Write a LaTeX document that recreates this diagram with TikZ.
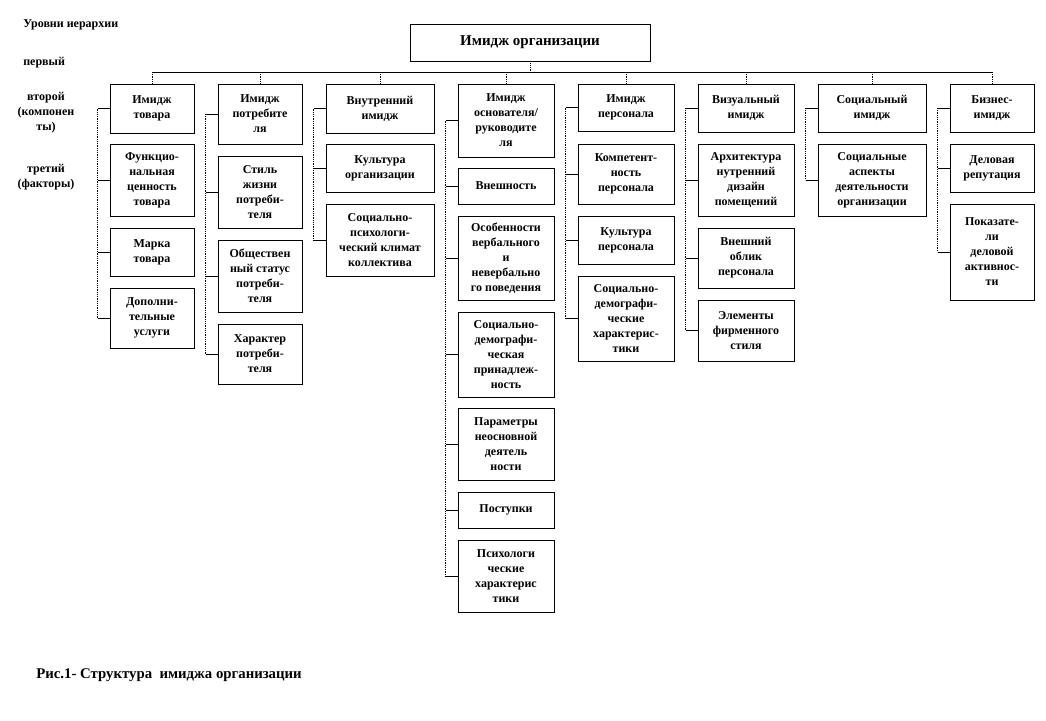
\documentclass[tikz,border=0pt]{standalone}
\usepackage{fontspec}
\setmainfont{Liberation Serif}
\tikzset{
  box/.style 2 args={draw, line width=0.6pt, align=center, inner sep=1pt,
    minimum width=#1pt, minimum height=#2pt, font=\fontsize{12}{15}\selectfont\bfseries},
  lev/.style={align=center, inner sep=0pt, font=\fontsize{12}{15}\selectfont\bfseries},
  vline/.style={densely dotted, line width=0.8pt},
}
\begin{document}
\begin{tikzpicture}[x=1pt,y=-1pt,line width=0.6pt]
	\useasboundingbox (0,0) rectangle (1046,720);
	% levels
	\node[lev,anchor=west] (lvl) at (23,25) {Уровни иерархии};
	\node[lev,anchor=west] (l1) at (23,63) {первый};
	\node[lev] (l2) at (46,113) {второй\\(компонен\\ты)};
	\node[lev] (l3) at (46,177.5) {третий\\(факторы)};
	\node[lev,anchor=west,font=\fontsize{14.8}{17}\selectfont\bfseries] (cap) at (36,675) {Рис.1- Структура\ \ имиджа организации};
	% first level
	\node[box={240}{37},font=\fontsize{15}{18}\selectfont\bfseries] (org) at (530,42.5) {Имидж организации};
	% second level
	\node[box={84}{49}] (h1) at (152,108.5) {Имидж\\товара};
	\node[box={84}{60}] (h2) at (260,114) {Имидж\\потребите\\ля};
	\node[box={108}{49}] (h3) at (380,108.5) {Внутренний\\имидж};
	\node[box={96}{73}] (h4) at (506,120.5) {Имидж\\основателя/\\руководите\\ля};
	\node[box={96}{47}] (h5) at (626,107.5) {Имидж\\персонала};
	\node[box={96}{48}] (h6) at (746,108) {Визуальный\\имидж};
	\node[box={108}{48}] (h7) at (872,108) {Социальный\\имидж};
	\node[box={84}{48}] (h8) at (992,108) {Бизнес-\\имидж};
	% third level
	\node[box={84}{72}] (c1a) at (152,180) {Функцио-\\нальная\\ценность\\товара};
	\node[box={84}{48}] (c1b) at (152,252) {Марка\\товара};
	\node[box={84}{60}] (c1c) at (152,318) {Дополни-\\тельные\\услуги};
	\node[box={84}{72}] (c2a) at (260,192) {Стиль\\жизни\\потреби-\\теля};
	\node[box={84}{72}] (c2b) at (260,276) {Обществен\\ный статус\\потреби-\\теля};
	\node[box={84}{60}] (c2c) at (260,354) {Характер\\потреби-\\теля};
	\node[box={108}{48}] (c3a) at (380,168) {Культура\\организации};
	\node[box={108}{72}] (c3b) at (380,240) {Социально-\\психологи-\\ческий климат\\коллектива};
	\node[box={96}{36}] (c4a) at (506,186) {Внешность};
	\node[box={96}{84}] (c4b) at (506,258) {Особенности\\вербального\\и\\невербально\\го поведения};
	\node[box={96}{85}] (c4c) at (506,354.5) {Социально-\\демографи-\\ческая\\принадлеж-\\ность};
	\node[box={96}{72}] (c4d) at (506,444) {Параметры\\неосновной\\деятель\\ности};
	\node[box={96}{36}] (c4e) at (506,510) {Поступки};
	\node[box={96}{72}] (c4f) at (506,576) {Психологи\\ческие\\характерис\\тики};
	\node[box={96}{60}] (c5a) at (626,174) {Компетент-\\ность\\персонала};
	\node[box={96}{48}] (c5b) at (626,240) {Культура\\персонала};
	\node[box={96}{85}] (c5c) at (626,318.5) {Социально-\\демографи-\\ческие\\характерис-\\тики};
	\node[box={96}{72}] (c6a) at (746,180) {Архитектура\\нутренний\\дизайн\\помещений};
	\node[box={96}{60}] (c6b) at (746,258) {Внешний\\облик\\персонала};
	\node[box={96}{61}] (c6c) at (746,330.5) {Элементы\\фирменного\\стиля};
	\node[box={108}{72}] (c7a) at (872,180) {Социальные\\аспекты\\деятельности\\организации};
	\node[box={84}{48}] (c8a) at (992,168) {Деловая\\репутация};
	\node[box={84}{96}] (c8b) at (992,252) {Показате-\\ли\\деловой\\активнос-\\ти};
	% connectors
	\coordinate (bus) at (530,72);
	\draw[vline] (org.south) -- (bus);
	\draw (h1.north |- bus) -- (h8.north |- bus);
	\foreach \h in {h1,h2,h3,h4,h5,h6,h7,h8}
		\draw[vline] (\h.north |- bus) -- (\h.north);
	\foreach \h/\l in {h1/c1c,h2/c2c,h3/c3b,h4/c4f,h5/c5c,h6/c6c,h7/c7a,h8/c8b}
		\draw[vline] ([xshift=-12pt]\h.west) -- ([xshift=-12pt]\h.west |- \l.west);
	\foreach \c in {h1,c1a,c1b,c1c,h2,c2a,c2b,c2c,h3,c3a,c3b,h4,c4a,c4b,c4c,c4d,c4e,c4f,
		h5,c5a,c5b,c5c,h6,c6a,c6b,c6c,h7,c7a,h8,c8a,c8b}
		\draw (\c.west) -- ++(-12,0);
\end{tikzpicture}
\end{document}
